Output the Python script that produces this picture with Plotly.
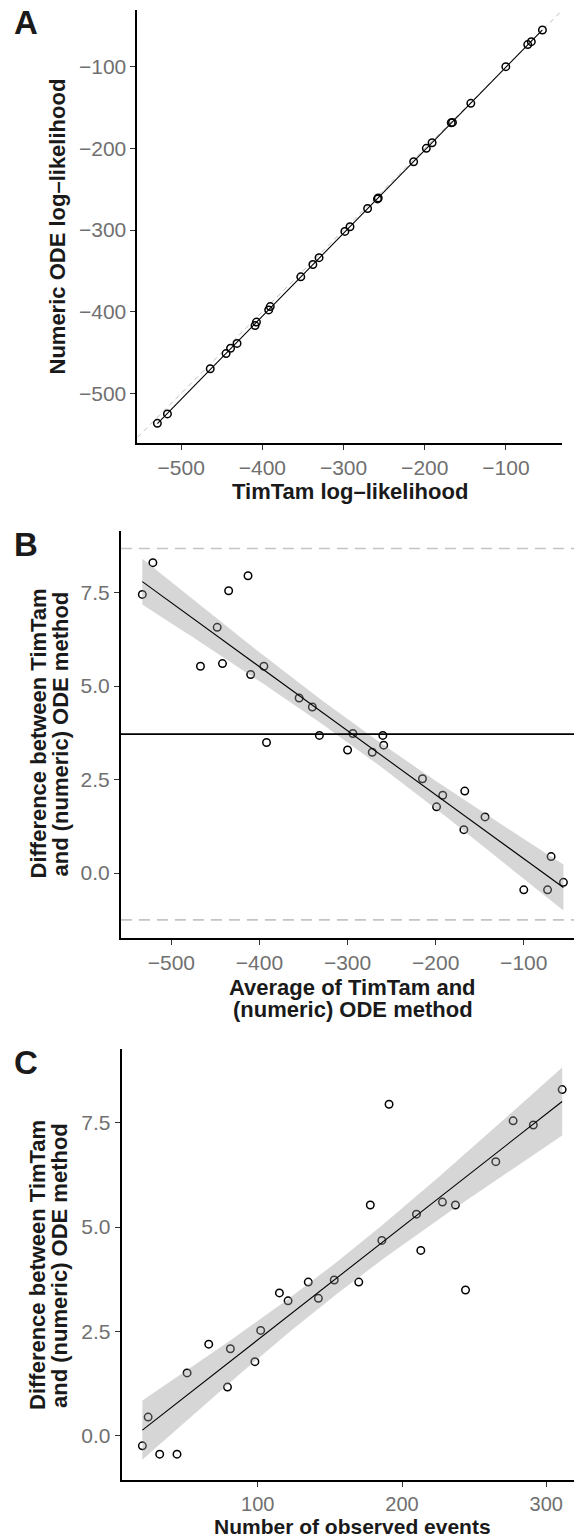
import numpy as np
import plotly.graph_objects as go

# ---------------- data ----------------
timtam_ll = [-529.3, -516.9, -464.2, -444.7, -439.2, -431.2, -409.0, -407.3, -392.2, -390.3,
             -352.7, -337.8, -330.2, -298.4, -292.1, -270.4, -258.2, -257.3, -213.7, -198.1,
             -191.0, -167.4, -165.9, -143.3, -100.2, -73.2, -68.8, -55.1]
ode_ll = [-536.7, -525.2, -469.8, -451.3, -444.8, -438.8, -417.0, -412.7, -397.8, -393.7,
          -357.3, -342.2, -333.8, -301.6, -295.9, -273.6, -261.8, -260.7, -216.3, -199.9,
          -193.0, -168.6, -168.1, -144.8, -99.8, -72.8, -69.2, -54.9]
avg_ll = [-533, -521, -467, -448, -442, -435, -413, -410, -395, -392, -355, -340, -332, -300,
          -294, -272, -260, -259, -215, -199, -192, -168, -167, -144, -100, -73, -69, -55]
diff_ll = [7.45, 8.30, 5.53, 6.57, 5.60, 7.55, 7.95, 5.31, 5.53, 3.49, 4.68, 4.44, 3.68, 3.29,
           3.73, 3.23, 3.68, 3.42, 2.52, 1.77, 2.08, 1.16, 2.19, 1.50, -0.45, -0.45, 0.44, -0.25]
events = [291, 311, 237, 265, 228, 277, 191, 210, 178, 244, 186, 213, 170, 142, 153, 121, 135,
          115, 102, 98, 81, 79, 66, 51, 44, 32, 24, 20]

ll_ticks = [-500, -400, -300, -200, -100]
ll_ticktext = ["\u2212500", "\u2212400", "\u2212300", "\u2212200", "\u2212100"]
diff_ticks = [0, 2.5, 5, 7.5]
diff_ticktext = ["0.0", "2.5", "5.0", "7.5"]
event_ticks = [100, 200, 300]
event_ticktext = ["100", "200", "300"]

T_CRIT = 2.056  # t(0.975, df=26)

# ---------------- geometry ----------------
W, H = 574, 1540
FONT = "Liberation Sans, Arial, Helvetica, sans-serif"
TICK_COLOR = "#707070"
TICK_SIZE = 21
TITLE_SIZE = 22


def px(x):
    return x / W


def py(y):
    return 1 - y / H


A_XR = [-553.9, -31.0]
A_YR = [-560.8, -30.8]
B_XR = [-557.3, -43.0]
B_YR = [-1.73, 9.16]
C_XR = [5.6, 319.2]
C_YR = [-1.07, 9.27]


def lm_band(x, y, n_grid=80):
    x = np.asarray(x, float)
    y = np.asarray(y, float)
    b, a = np.polyfit(x, y, 1)
    n = len(x)
    resid = y - (a + b * x)
    s = np.sqrt(np.sum(resid ** 2) / (n - 2))
    xbar = x.mean()
    sxx = np.sum((x - xbar) ** 2)
    xs = np.linspace(x.min(), x.max(), n_grid)
    ys = a + b * xs
    se = s * np.sqrt(1 / n + (xs - xbar) ** 2 / sxx)
    return xs, ys, ys - T_CRIT * se, ys + T_CRIT * se


fig = go.Figure()

marker = dict(symbol="circle-open", size=7.5, color="black", line=dict(width=1.5, color="black"))

# ---------------- Panel A ----------------
fig.add_trace(go.Scatter(x=A_XR, y=A_XR, mode="lines", xaxis="x", yaxis="y",
                         line=dict(color="#bdbdbd", width=1, dash="5px,4px"), hoverinfo="skip"))
bA, aA = np.polyfit(timtam_ll, ode_ll, 1)
xa = np.array([min(timtam_ll), max(timtam_ll)])
fig.add_trace(go.Scatter(x=xa, y=aA + bA * xa, mode="lines", xaxis="x", yaxis="y",
                         line=dict(color="black", width=1.1), hoverinfo="skip"))
fig.add_trace(go.Scatter(x=timtam_ll, y=ode_ll, mode="markers", xaxis="x", yaxis="y", marker=marker))

# ---------------- Panel B ----------------
mean_d = float(np.mean(diff_ll))
sd_d = float(np.std(diff_ll, ddof=1))
for lvl in (mean_d + 1.96 * sd_d, mean_d - 1.96 * sd_d):
    fig.add_trace(go.Scatter(x=[B_XR[0], B_XR[1]], y=[lvl, lvl], mode="lines", xaxis="x2", yaxis="y2",
                             line=dict(color="#c4c4c4", width=1.6, dash="11px,7px"), hoverinfo="skip"))
fig.add_trace(go.Scatter(x=avg_ll, y=diff_ll, mode="markers", xaxis="x2", yaxis="y2", marker=marker))
xs, ys, lo, hi = lm_band(avg_ll, diff_ll)
fig.add_trace(go.Scatter(x=np.concatenate([xs, xs[::-1]]), y=np.concatenate([hi, lo[::-1]]),
                         mode="lines", fill="toself", fillcolor="rgba(153,153,153,0.4)",
                         line=dict(width=0), xaxis="x2", yaxis="y2", hoverinfo="skip"))
fig.add_trace(go.Scatter(x=xs, y=ys, mode="lines", xaxis="x2", yaxis="y2",
                         line=dict(color="black", width=1.1), hoverinfo="skip"))
fig.add_trace(go.Scatter(x=[B_XR[0], B_XR[1]], y=[mean_d, mean_d], mode="lines", xaxis="x2", yaxis="y2",
                         line=dict(color="black", width=1.7), hoverinfo="skip"))

# ---------------- Panel C ----------------
fig.add_trace(go.Scatter(x=events, y=diff_ll, mode="markers", xaxis="x3", yaxis="y3", marker=marker))
xs, ys, lo, hi = lm_band(events, diff_ll)
fig.add_trace(go.Scatter(x=np.concatenate([xs, xs[::-1]]), y=np.concatenate([hi, lo[::-1]]),
                         mode="lines", fill="toself", fillcolor="rgba(153,153,153,0.4)",
                         line=dict(width=0), xaxis="x3", yaxis="y3", hoverinfo="skip"))
fig.add_trace(go.Scatter(x=xs, y=ys, mode="lines", xaxis="x3", yaxis="y3",
                         line=dict(color="black", width=1.1), hoverinfo="skip"))


def axis(domain, rng, tickvals, ticktext, anchor, size=TICK_SIZE):
    return dict(domain=domain, range=rng, tickvals=tickvals, ticktext=ticktext, anchor=anchor,
                ticks="outside", ticklen=5, tickwidth=1.1, tickcolor="#333333",
                showline=True, linecolor="black", linewidth=1.9, showgrid=False, zeroline=False,
                tickfont=dict(family=FONT, size=size, color=TICK_COLOR), fixedrange=True)


layout = dict(
    width=W, height=H, margin=dict(l=0, r=0, t=0, b=0, pad=0),
    paper_bgcolor="white", plot_bgcolor="white", showlegend=False,
    font=dict(family=FONT),
    xaxis=axis([px(137.4), px(562)], A_XR, ll_ticks, ll_ticktext, "y"),
    yaxis=axis([py(443), py(10.3)], A_YR, ll_ticks, ll_ticktext, "x"),
    xaxis2=axis([px(120.9), 1.0], B_XR, ll_ticks, ll_ticktext, "y2"),
    yaxis2=axis([py(937.7), py(530.5)], B_YR, diff_ticks, diff_ticktext, "x2"),
    xaxis3=axis([px(121.6), 1.0], C_XR, event_ticks, event_ticktext, "y3", size=20),
    yaxis3=axis([py(1480.0), py(1049.2)], C_YR, diff_ticks, diff_ticktext, "x3"),
)
fig.update_layout(**layout)


def label(text, x, y, size=TITLE_SIZE, angle=0, xanchor="center", yanchor="middle"):
    fig.add_annotation(text=text, x=px(x), y=py(y), xref="paper", yref="paper", showarrow=False,
                       textangle=angle, xanchor=xanchor, yanchor=yanchor, borderpad=0,
                       font=dict(family=FONT, size=size, color="#1a1a1a", weight="bold"))


# panel letters
label("A", 13, 23, size=33, xanchor="left")
label("B", 13, 544, size=33, xanchor="left")
label("C", 13, 1062, size=33, xanchor="left")

# axis titles
label("TimTam log\u2013likelihood", 349.7, 491)
label("Numeric ODE log\u2013likelihood", 57, 226.5, angle=-90)
label("Average of TimTam and", 352.6, 987)
label("(numeric) ODE method", 352.6, 1009.5)
label("Difference between TimTam", 37.5, 734, angle=-90)
label("and (numeric) ODE method", 59.5, 734, angle=-90)
label("Difference between TimTam", 37.5, 1265.5, angle=-90)
label("and (numeric) ODE method", 59.5, 1265.5, angle=-90)
label("Number of observed events", 352.6, 1526.8, size=21)

fig.write_html("out.html")
